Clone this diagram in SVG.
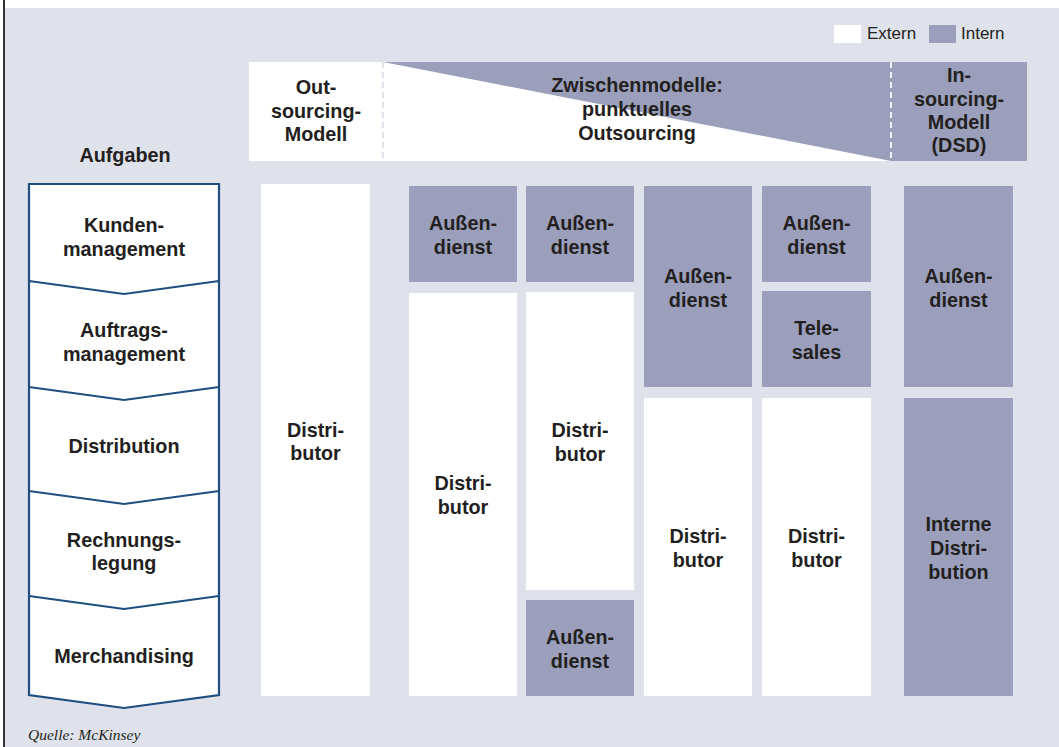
<svg xmlns="http://www.w3.org/2000/svg" width="1059" height="747" viewBox="0 0 1059 747">
<style>
.bg{fill:#dfe2ea}
.ext{fill:#ffffff}
.int{fill:#9b9fbb}
.t{font-family:"Liberation Sans",Arial,sans-serif;font-weight:bold;font-size:19.8px;fill:#231f20;text-anchor:middle}
.leg{font-family:"Liberation Sans",Arial,sans-serif;font-size:17px;fill:#231f20}
.src{font-family:"Liberation Serif","Times New Roman",serif;font-style:italic;font-size:15.5px;fill:#231f20}
.chev{fill:#ffffff;stroke:#1f4e80;stroke-width:2.2;stroke-linejoin:miter}
.div{fill:none;stroke:#1f4e80;stroke-width:2.2}
.dash{stroke-width:2;stroke-dasharray:6 4;fill:none}
</style>
<rect x="0" y="0" width="1059" height="747" fill="#ffffff"/>
<rect class="bg" x="5" y="8" width="1054" height="739"/>
<line x1="4" y1="0" x2="4" y2="747" stroke="#333333" stroke-width="2"/>

<g id="legend">
<rect class="ext" x="834" y="25" width="27" height="18"/>
<text class="leg" x="867" y="39">Extern</text>
<rect class="int" x="929" y="25" width="27" height="18"/>
<text class="leg" x="961" y="39">Intern</text>
</g>

<g id="header">
<rect class="ext" x="249" y="62" width="642" height="99"/>
<polygon class="int" points="383,62 891,62 891,161"/>
<rect class="int" x="891" y="62" width="136" height="99"/>
<line class="dash" x1="383" y1="62" x2="383" y2="161" stroke="#dfe2ea"/>
<line class="dash" x1="891" y1="62" x2="891" y2="161" stroke="#eef0f5"/>
<text class="t" x="316" y="94">Out-</text>
<text class="t" x="316" y="118">sourcing-</text>
<text class="t" x="316" y="141">Modell</text>
<text class="t" x="637" y="92">Zwischenmodelle:</text>
<text class="t" x="637" y="116">punktuelles</text>
<text class="t" x="637" y="140">Outsourcing</text>
<text class="t" x="959" y="82">In-</text>
<text class="t" x="959" y="106">sourcing-</text>
<text class="t" x="959" y="129">Modell</text>
<text class="t" x="959" y="152">(DSD)</text>
</g>

<g id="aufgaben">
<text class="t" x="125" y="162">Aufgaben</text>
<path class="chev" d="M29,184 H219 V695 L124,708 L29,695 Z"/>
<path class="div" d="M29,281 L124,294 L219,281"/>
<path class="div" d="M29,387 L124,400 L219,387"/>
<path class="div" d="M29,491 L124,504 L219,491"/>
<path class="div" d="M29,596 L124,609 L219,596"/>
<text class="t" x="124" y="232">Kunden-</text>
<text class="t" x="124" y="256">management</text>
<text class="t" x="124" y="337">Auftrags-</text>
<text class="t" x="124" y="361">management</text>
<text class="t" x="124" y="453">Distribution</text>
<text class="t" x="124" y="547">Rechnungs-</text>
<text class="t" x="124" y="570">legung</text>
<text class="t" x="124" y="663">Merchandising</text>
</g>

<g id="col1">
<rect class="ext" x="261" y="184" width="109" height="512"/>
<text class="t" x="315.5" y="437">Distri-</text>
<text class="t" x="315.5" y="460">butor</text>
</g>

<g id="col2">
<rect class="int" x="409" y="186" width="108" height="96"/>
<text class="t" x="463" y="230">Außen-</text>
<text class="t" x="463" y="254">dienst</text>
<rect class="ext" x="409" y="293" width="108" height="403"/>
<text class="t" x="463" y="490">Distri-</text>
<text class="t" x="463" y="514">butor</text>
</g>

<g id="col3">
<rect class="int" x="526" y="186" width="108" height="96"/>
<text class="t" x="580" y="230">Außen-</text>
<text class="t" x="580" y="254">dienst</text>
<rect class="ext" x="526" y="292" width="108" height="298"/>
<text class="t" x="580" y="437">Distri-</text>
<text class="t" x="580" y="461">butor</text>
<rect class="int" x="526" y="600" width="108" height="96"/>
<text class="t" x="580" y="644">Außen-</text>
<text class="t" x="580" y="668">dienst</text>
</g>

<g id="col4">
<rect class="int" x="644" y="186" width="108" height="201"/>
<text class="t" x="698" y="283">Außen-</text>
<text class="t" x="698" y="307">dienst</text>
<rect class="ext" x="644" y="398" width="108" height="298"/>
<text class="t" x="698" y="543">Distri-</text>
<text class="t" x="698" y="567">butor</text>
</g>

<g id="col5">
<rect class="int" x="762" y="186" width="109" height="96"/>
<text class="t" x="816.5" y="230">Außen-</text>
<text class="t" x="816.5" y="254">dienst</text>
<rect class="int" x="762" y="291" width="109" height="96"/>
<text class="t" x="816.5" y="335">Tele-</text>
<text class="t" x="816.5" y="359">sales</text>
<rect class="ext" x="762" y="398" width="109" height="298"/>
<text class="t" x="816.5" y="543">Distri-</text>
<text class="t" x="816.5" y="567">butor</text>
</g>

<g id="col6">
<rect class="int" x="904" y="186" width="109" height="201"/>
<text class="t" x="958.5" y="283">Außen-</text>
<text class="t" x="958.5" y="307">dienst</text>
<rect class="int" x="904" y="398" width="109" height="298"/>
<text class="t" x="958.5" y="531">Interne</text>
<text class="t" x="958.5" y="555">Distri-</text>
<text class="t" x="958.5" y="579">bution</text>
</g>

<g id="connectors"></g>

<text class="src" x="28" y="740">Quelle: McKinsey</text>
</svg>
